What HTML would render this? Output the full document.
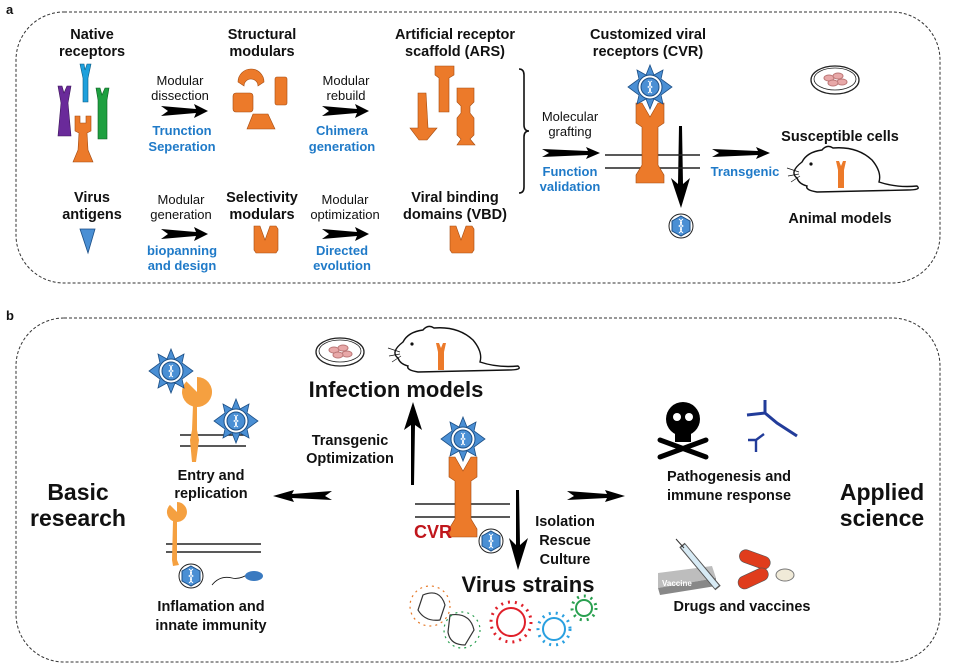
<!DOCTYPE html>
<html><head><meta charset="utf-8"><style>
html,body{margin:0;padding:0;background:#fff}
svg{display:block}
text{font-family:"Liberation Sans","DejaVu Sans",sans-serif}
.b{font-weight:bold;fill:#111}
.n{fill:#111}
.bl{font-weight:bold;fill:#1f7ac8}
</style></head><body>
<svg width="959" height="671" viewBox="0 0 959 671" xmlns="http://www.w3.org/2000/svg">
<defs>
<g id="virus">
<polygon points="0,-22 4,-12 13,-17 11,-8 22,0 11,8 13,17 4,12 0,22 -4,12 -13,17 -11,8 -22,0 -11,-8 -13,-17 -4,-12" fill="#4a8fd4" stroke="#1c4f86" stroke-width="0.8"/>
<circle r="12" fill="#fff" stroke="#1c4f86" stroke-width="1"/>
<circle r="9" fill="#4a8fd4" stroke="#1c4f86" stroke-width="1"/>
<path d="M-2,-6 Q3,-3 -2,0 Q3,3 -2,6 M2,-6 Q-3,-3 2,0 Q-3,3 2,6" stroke="#fff" stroke-width="1" fill="none"/>
</g>
<g id="hex">
<circle r="12" fill="#fff" stroke="#222" stroke-width="1"/>
<polygon points="0,-10 9,-5 9,5 0,10 -9,5 -9,-5" fill="#4a8fd4" stroke="#1c4f86"/>
<path d="M-2,-7 Q3,-3 -2,0 Q3,3 -2,7 M2,-7 Q-3,-3 2,0 Q-3,3 2,7" stroke="#fff" stroke-width="1" fill="none"/>
</g>
<g id="dish">
<ellipse rx="24" ry="14" fill="#fff" stroke="#222" stroke-width="1.3"/>
<ellipse rx="21" ry="11" cy="-1" fill="none" stroke="#222" stroke-width="0.8"/>
<ellipse cx="-6" cy="-2" rx="5" ry="3" fill="#e8a8a8" stroke="#b77"/>
<ellipse cx="3" cy="-4" rx="5" ry="3" fill="#e8a8a8" stroke="#b77"/>
<ellipse cx="7" cy="2" rx="5" ry="3" fill="#e8a8a8" stroke="#b77"/>
<ellipse cx="-2" cy="3" rx="5" ry="3" fill="#e8a8a8" stroke="#b77"/>
</g>
<g id="mouse">
<path d="M0,28 Q-8,22 5,12 Q10,2 25,0 Q30,-6 36,-2 Q60,-4 75,10 Q85,22 82,32 Q100,38 120,36 Q125,40 110,40 L20,42 Q8,40 10,36 Q2,34 0,28 Z" fill="#fff" stroke="#111" stroke-width="1.4"/>
<circle cx="14" cy="14" r="1.6" fill="#111"/>
<path d="M2,22 L-10,18 M2,24 L-9,26 M3,26 L-6,32" stroke="#111" stroke-width="0.7"/>
</g>
<g id="rec">
<path d="M-14,0 L-8,0 L0,14 L8,0 L14,0 L14,20 L8,24 L8,62 L14,72 L14,80 L-14,80 L-14,72 L-8,62 L-8,24 L-14,20 Z" fill="#ec7a2a" stroke="#a24a10" stroke-width="0.6"/>
</g>
</defs>

<!-- panel a -->
<text x="6" y="14" class="b" font-size="13">a</text>
<rect x="16" y="12" width="924" height="271" rx="48" fill="none" stroke="#333" stroke-width="1" stroke-dasharray="3,2"/>

<g font-size="14.5" text-anchor="middle">
<text x="92" y="39" class="b">Native</text><text x="92" y="56" class="b">receptors</text>
<text x="262" y="39" class="b">Structural</text><text x="262" y="56" class="b">modulars</text>
<text x="455" y="39" class="b">Artificial receptor</text><text x="455" y="56" class="b">scaffold (ARS)</text>
<text x="648" y="39" class="b">Customized viral</text><text x="648" y="56" class="b">receptors (CVR)</text>
<text x="92" y="202" class="b">Virus</text><text x="92" y="219" class="b">antigens</text>
<text x="262" y="202" class="b">Selectivity</text><text x="262" y="219" class="b">modulars</text>
<text x="455" y="202" class="b">Viral binding</text><text x="455" y="219" class="b">domains (VBD)</text>
<text x="840" y="141" class="b">Susceptible cells</text>
<text x="840" y="223" class="b">Animal models</text>
</g>
<g font-size="13" text-anchor="middle">
<text x="180" y="85" class="n">Modular</text><text x="180" y="100" class="n">dissection</text>
<text x="346" y="85" class="n">Modular</text><text x="346" y="100" class="n">rebuild</text>
<text x="181" y="204" class="n">Modular</text><text x="181" y="219" class="n">generation</text>
<text x="345" y="204" class="n">Modular</text><text x="345" y="219" class="n">optimization</text>
<text x="570" y="121" class="n">Molecular</text><text x="570" y="136" class="n">grafting</text>
<text x="182" y="135" class="bl">Trunction</text><text x="182" y="151" class="bl">Seperation</text>
<text x="342" y="135" class="bl">Chimera</text><text x="342" y="151" class="bl">generation</text>
<text x="182" y="255" class="bl">biopanning</text><text x="182" y="270" class="bl">and design</text>
<text x="342" y="255" class="bl">Directed</text><text x="342" y="270" class="bl">evolution</text>
<text x="570" y="176" class="bl">Function</text><text x="570" y="191" class="bl">validation</text>
<text x="745" y="176" class="bl">Transgenic</text>
</g>

<g fill="#000">
<polygon points="161,106 196,109 194,104 208,111 194,118 196,113 161,116 168,111"/>
<polygon points="322,106 357,109 355,104 369,111 355,118 357,113 322,116 329,111"/>
<polygon points="161,229 196,232 194,227 208,234 194,241 196,236 161,239 168,234"/>
<polygon points="322,229 357,232 355,227 369,234 355,241 357,236 322,239 329,234"/>
<polygon points="542,149 588,151 586,147 600,153 586,159 588,155 542,157 549,153"/>
<polygon points="712,149 758,151 756,147 770,153 756,159 758,155 712,157 719,153"/>
<polygon points="679,126 682,126 683,184 690,178 681,208 671,178 678,184"/>
</g>

<path d="M58,86 L62,86 L64,93 L67,86 L71,86 L68,103 L71,136 L58,136 L61,103 Z" fill="#6a2a9a" stroke="#3b1458" stroke-width="0.6"/>
<path d="M80,64 L84,64 L85,70 L87,64 L91,64 L88,78 L88,102 L83,102 L83,78 Z" fill="#1ea0dc" stroke="#0b5b84" stroke-width="0.6"/>
<path d="M96,88 L100,88 L102,95 L105,88 L109,88 L107,100 L107,139 L98,139 L98,100 Z" fill="#1ea040" stroke="#0b5b20" stroke-width="0.6"/>
<path d="M75,116 L80,116 L80,123 L86,123 L86,116 L91,116 L91,131 L87,133 L88,150 L93,162 L73,162 L78,150 L79,133 L75,131 Z" fill="#ec7a2a" stroke="#a24a10" stroke-width="0.6"/>

<path d="M238,82 A13,13 0 0 1 264,82 L258,86 A7,7 0 0 0 244,86 Z" fill="#ec7a2a" stroke="#a24a10" stroke-width="0.6"/>
<rect x="275" y="77" width="12" height="28" rx="2" fill="#ec7a2a" stroke="#a24a10" stroke-width="0.6"/>
<rect x="233" y="93" width="20" height="19" rx="3" fill="#ec7a2a" stroke="#a24a10" stroke-width="0.6"/>
<polygon points="253,114 268,114 275,129 247,129" fill="#ec7a2a" stroke="#a24a10" stroke-width="0.6"/>
<path d="M435,66 L454,66 L454,75 L449,78 L449,112 L439,112 L439,78 L435,75 Z" fill="#ec7a2a" stroke="#a24a10" stroke-width="0.6"/>
<path d="M418,93 L426,93 L428,128 L437,128 L427,140 L419,140 L410,128 L418,128 Z" fill="#ec7a2a" stroke="#a24a10" stroke-width="0.6"/>
<path d="M457,88 L474,88 L474,102 L470,106 L470,113 L474,118 L474,135 L470,139 L475,145 L457,145 L461,139 L457,135 L457,118 L461,113 L461,106 L457,102 Z" fill="#ec7a2a" stroke="#a24a10" stroke-width="0.6"/>
<polygon points="80,229 95,229 88,253" fill="#4a8fd4" stroke="#1c4f86" stroke-width="0.8"/>
<path d="M254,226 L260,226 L265,240 L270,226 L276,226 L278,229 L278,250 L276,253 L256,253 L254,250 Z" fill="#ec7a2a" stroke="#a24a10" stroke-width="0.6"/>
<path d="M450,226 L456,226 L461,240 L466,226 L472,226 L474,229 L474,250 L472,253 L452,253 L450,250 Z" fill="#ec7a2a" stroke="#a24a10" stroke-width="0.6"/>
<path d="M519,69 Q524,69 524,75 L524,125 Q524,131 529,131 Q524,131 524,137 L524,187 Q524,193 519,193" fill="none" stroke="#111" stroke-width="1.6"/>

<line x1="605" y1="155" x2="700" y2="155" stroke="#222" stroke-width="1.4"/>
<line x1="605" y1="168" x2="700" y2="168" stroke="#222" stroke-width="1.4"/>
<use href="#rec" transform="translate(650,103)"/>
<use href="#virus" transform="translate(650,87)"/>
<use href="#hex" transform="translate(681,226)"/>
<use href="#dish" transform="translate(835,80)"/>
<use href="#mouse" transform="translate(797,150)"/>
<path d="M836,161 L839,161 L841,166 L843,161 L846,161 L844,170 L844,188 L838,188 L838,170 Z" fill="#ec7a2a"/>

<!-- panel b -->
<text x="6" y="320" class="b" font-size="13">b</text>
<rect x="16" y="318" width="924" height="344" rx="48" fill="none" stroke="#333" stroke-width="1" stroke-dasharray="3,2"/>

<use href="#dish" transform="translate(340,352)"/>
<use href="#mouse" transform="translate(398,330)"/>
<path d="M436,343 L439,343 L441,348 L443,343 L446,343 L444,352 L444,370 L438,370 L438,352 Z" fill="#ec7a2a"/>

<g fill="#000">
<polygon points="411,485 414,485 415,425 422,430 413,402 404,430 411,425"/>
<polygon points="516,490 519,490 520,545 528,538 518,570 509,538 516,545"/>
<polygon points="332,491 292,494 294,490 273,496 294,502 292,498 332,500 325,496"/>
<polygon points="567,491 607,494 605,490 625,496 605,502 607,498 567,500 574,496"/>
</g>

<line x1="415" y1="504" x2="510" y2="504" stroke="#222" stroke-width="1.4"/>
<line x1="415" y1="517" x2="510" y2="517" stroke="#222" stroke-width="1.4"/>
<use href="#rec" transform="translate(463,457)"/>
<use href="#virus" transform="translate(463,439)"/>
<use href="#hex" transform="translate(491,541)"/>

<!-- entry and replication -->
<line x1="180" y1="435" x2="246" y2="435" stroke="#222" stroke-width="1.4"/>
<line x1="180" y1="446" x2="246" y2="446" stroke="#222" stroke-width="1.4"/>
<path d="M197,392 L197,377 A15,15 0 1 1 186.4,381.4 Z" fill="#f5a040"/>
<path d="M193,405 L197,405 L197,430 L199,440 L196,462 L192,462 L190,440 L192,430 Z" fill="#f5a040"/>
<use href="#virus" transform="translate(171,371)"/>
<use href="#virus" transform="translate(236,421)"/>
<line x1="166" y1="544" x2="261" y2="544" stroke="#222" stroke-width="1.4"/>
<line x1="166" y1="552" x2="261" y2="552" stroke="#222" stroke-width="1.4"/>
<path d="M177,512 L177,502 A10,10 0 1 1 169.9,504.9 Z" fill="#f5a040"/>
<path d="M173,521 L177,521 L177,560 L179,565 L173,566 L172,560 Z" fill="#f5a040"/>
<use href="#hex" transform="translate(191,576)"/>
<path d="M212,585 Q220,575 232,578 Q240,580 250,573" fill="none" stroke="#111" stroke-width="0.8"/>
<ellipse cx="254" cy="576" rx="9" ry="5" fill="#3a7ac0"/>

<g fill="none" stroke-width="1.2">
<path d="M423,595 Q440,588 445,605 L440,620 Q425,622 418,610 Z" stroke="#333"/>
<circle cx="430" cy="606" r="20" stroke="#e67a2a" stroke-dasharray="2,4"/>
<path d="M450,615 Q470,612 474,630 L465,645 Q450,645 448,632 Z" stroke="#333"/>
<circle cx="462" cy="630" r="18" stroke="#2aa050" stroke-dasharray="2,4"/>
<circle cx="511" cy="622" r="14" stroke="#e0202a" stroke-width="2"/>
<circle cx="511" cy="622" r="20" stroke="#e0202a" stroke-width="3" stroke-dasharray="2,5"/>
<circle cx="554" cy="629" r="11" stroke="#2aa0e0" stroke-width="2"/>
<circle cx="554" cy="629" r="16" stroke="#2aa0e0" stroke-width="3" stroke-dasharray="2,5"/>
<circle cx="584" cy="608" r="8" stroke="#2aa050" stroke-width="2"/>
<circle cx="584" cy="608" r="12" stroke="#2aa050" stroke-width="3" stroke-dasharray="2,5"/>
</g>

<circle cx="683" cy="419" r="17" fill="#000"/>
<rect x="675" y="430" width="16" height="12" fill="#000"/>
<circle cx="677" cy="417" r="4" fill="#fff"/><circle cx="689" cy="417" r="4" fill="#fff"/>
<path d="M660,440 L706,457 M706,440 L660,457" stroke="#000" stroke-width="5" stroke-linecap="round"/>
<path d="M765,400 L765,413 L777,423 L797,436 M747,415 L765,413" stroke="#223c9a" stroke-width="3" fill="none"/>
<path d="M756,452 L756,440 L764,434 M748,440 L756,440" stroke="#223c9a" stroke-width="2.4" fill="none"/>
<polygon points="658,573 712,566 716,578 658,588" fill="#bdbdbd"/>
<polygon points="658,588 716,578 716,586 660,595" fill="#888"/>
<text x="662" y="586" font-size="8" fill="#fff" font-weight="bold">Vaccine</text>
<path d="M682,545 L718,588" stroke="#555" stroke-width="7"/>
<path d="M683,546 L717,587" stroke="#d8ebf5" stroke-width="5"/>
<path d="M676,539 L684,548" stroke="#333" stroke-width="1"/>
<rect x="739" y="553" width="32" height="13" rx="6.5" fill="#e03c1c" stroke="#555" stroke-width="0.6" transform="rotate(20 755 559)"/>
<rect x="737" y="572" width="32" height="13" rx="6.5" fill="#e03c1c" stroke="#555" stroke-width="0.6" transform="rotate(-25 753 578)"/>
<ellipse cx="785" cy="575" rx="9" ry="6" fill="#f0ead8" stroke="#777"/>

<g text-anchor="middle">
<text x="78" y="500" class="b" font-size="23">Basic</text><text x="78" y="526" class="b" font-size="23">research</text>
<text x="882" y="500" class="b" font-size="23">Applied</text><text x="882" y="526" class="b" font-size="23">science</text>
<text x="396" y="397" class="b" font-size="22">Infection models</text>
<text x="528" y="592" class="b" font-size="22">Virus strains</text>
<text x="433" y="538" font-size="18" font-weight="bold" fill="#c0161c">CVR</text>
<g font-size="14.5">
<text x="350" y="445" class="b">Transgenic</text><text x="350" y="463" class="b">Optimization</text>
<text x="211" y="480" class="b">Entry and</text><text x="211" y="498" class="b">replication</text>
<text x="565" y="526" class="b">Isolation</text><text x="565" y="545" class="b">Rescue</text><text x="565" y="564" class="b">Culture</text>
<text x="729" y="481" class="b">Pathogenesis and</text><text x="729" y="500" class="b">immune response</text>
<text x="742" y="611" class="b">Drugs and vaccines</text>
<text x="211" y="611" class="b">Inflamation and</text><text x="211" y="630" class="b">innate immunity</text>
</g>
</g>
</svg>
</body></html>
